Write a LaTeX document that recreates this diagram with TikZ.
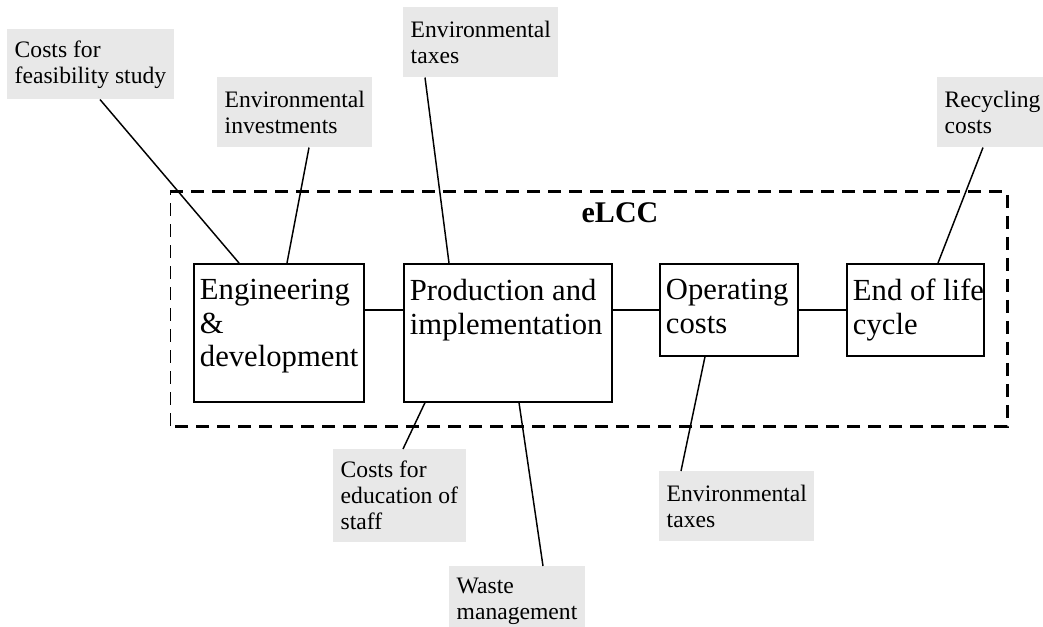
\documentclass[tikz,border=0pt]{standalone}
\usepackage{fontspec}
\setmainfont{Liberation Serif}
\tikzset{
  stage/.style={draw, line width=1.2pt, anchor=north west, inner sep=0pt},
  stagetext/.style={anchor=north west, align=left, inner xsep=5pt, inner ysep=12pt,
    font=\fontsize{23}{25.2}\selectfont},
  cost/.style={fill=gray!18, anchor=north west, align=left, inner xsep=5.6pt,
    minimum height=52.5pt, font=\fontsize{17.7}{19.5}\selectfont},
  link/.style={line width=1.1pt},
  frame/.style={dash pattern=on 9.75pt off 6pt},
}
\begin{document}
\begin{tikzpicture}[x=0.75pt,y=-0.75pt]
    \useasboundingbox (0,0) rectangle (1043,627);
    % dashed eLCC frame
    \draw[frame, line width=0.75pt] (170,426) -- (170,192);
    \draw[frame, line width=2.25pt] (170,192) -| (1007,426) -- (170,426);
    \node[font=\fontsize{22.5}{24}\selectfont\bfseries] (elcc) at (620,213) {eLCC};
    % stages
    \node[stage, minimum width=127.5pt, minimum height=103.5pt,
      label={[stagetext]north west:Engineering\\\&\\development}] (eng) at (193,263) {};
    \node[stage, minimum width=156pt, minimum height=103.5pt,
      label={[stagetext]north west:Production and\\implementation}] (prod) at (403,263) {};
    \node[stage, minimum width=103.5pt, minimum height=69pt,
      label={[stagetext]north west:Operating\\costs}] (op) at (659,263) {};
    \node[stage, minimum width=102.75pt, minimum height=69pt,
      label={[stagetext]north west:End of life\\cycle}] (end) at (846,263) {};
    \draw[link] (eng.east |- op.west) -- (prod.west |- op.west);
    \draw[link] (prod.east |- op.west) -- (op.west);
    \draw[link] (op.east) -- (end.west);
    % cost items
    \node[cost] (feas) at (7,29) {Costs for\\feasibility study};
    \node[cost] (inv) at (217,77) {Environmental\\investments};
    \node[cost] (taxup) at (403,7) {Environmental\\taxes};
    \node[cost] (recyc) at (937,77) {Recycling\\costs};
    \node[cost, minimum height=69.75pt] (educ) at (333,449) {Costs for\\education of\\staff};
    \node[cost] (waste) at (449,566) {Waste\\management};
    \node[cost] (taxdown) at (659,471) {Environmental\\taxes};
    \draw[link] ([shift={(93,0)}]feas.south west) -- ([shift={(46,0)}]eng.north west);
    \draw[link] ([shift={(92,0)}]inv.south west) -- ([shift={(94,0)}]eng.north west);
    \draw[link] ([shift={(22,0)}]taxup.south west) -- ([shift={(46,0)}]prod.north west);
    \draw[link] ([shift={(46,0)}]recyc.south west) -- ([shift={(92,0)}]end.north west);
    \draw[link] ([shift={(70,0)}]educ.north west) -- ([shift={(22,0)}]prod.south west);
    \draw[link] ([shift={(94,0)}]waste.north west) -- ([shift={(116,0)}]prod.south west);
    \draw[link] ([shift={(22,0)}]taxdown.north west) -- ([shift={(46,0)}]op.south west);
\end{tikzpicture}
\end{document}
